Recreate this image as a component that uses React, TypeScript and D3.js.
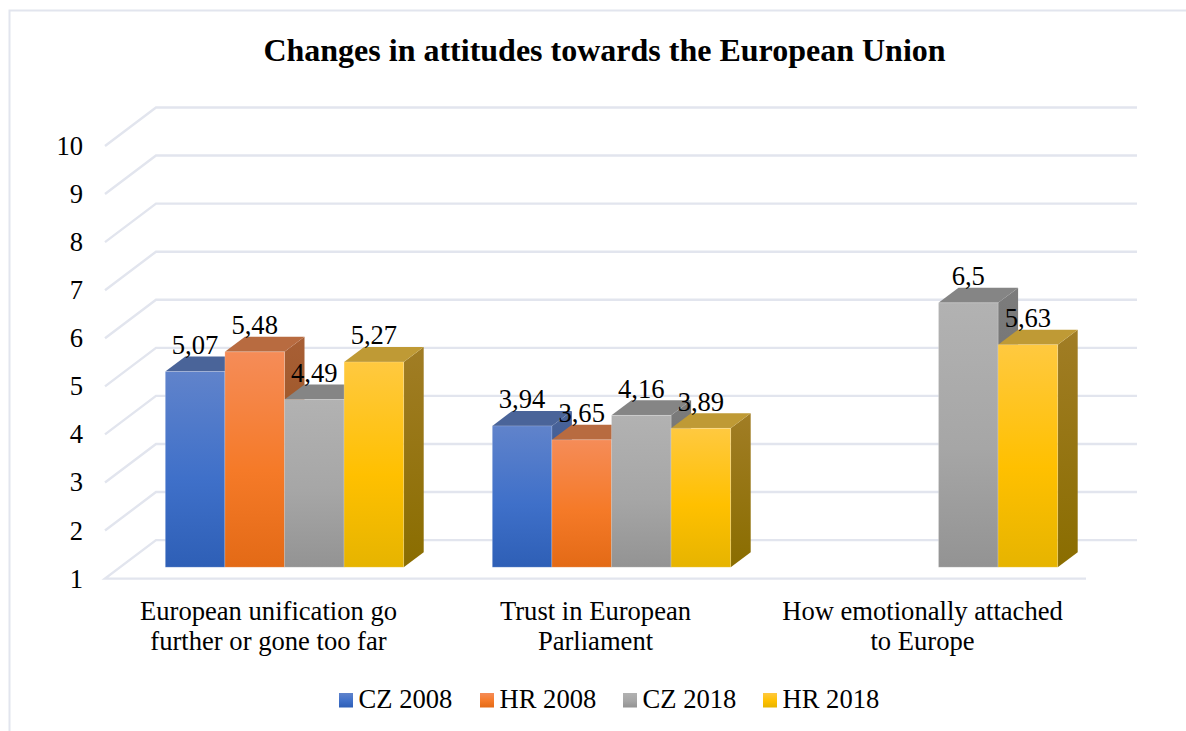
import React from "react";
import * as d3 from "d3";

const categories = [
  ["European unification go", "further or gone too far"],
  ["Trust in European", "Parliament"],
  ["How emotionally attached", "to Europe"],
];
const seriesNames = ["CZ 2008", "HR 2008", "CZ 2018", "HR 2018"];
const cz2008: (number | null)[] = [5.07, 3.94, null];
const hr2008: (number | null)[] = [5.48, 3.65, null];
const cz2018: (number | null)[] = [4.49, 4.16, 6.5];
const hr2018: (number | null)[] = [5.27, 3.89, 5.63];
const seriesValues = [cz2008, hr2008, cz2018, hr2018];
const valueTicks = [1, 2, 3, 4, 5, 6, 7, 8, 9, 10];
const labelText = ["5,07", "3,94", "", "5,48", "3,65", "", "4,49", "4,16", "6,5", "5,27", "3,89", "5,63"];

const palettes = [
  { stops: ["#6083cb", "#3f70c9", "#2e5fb6"], top: "#4a6499", side: ["#4a6499", "#2a4a8c"] },
  { stops: ["#f58c58", "#f57a28", "#e36a16"], top: "#b86b40", side: ["#a85f35", "#8f4d18"] },
  { stops: ["#b2b2b2", "#a6a6a6", "#939393"], top: "#858585", side: ["#7c7c7c", "#666666"] },
  { stops: ["#ffc940", "#ffc000", "#e6b400"], top: "#bf9a35", side: ["#a17d25", "#8a6d00"] },
];

const legendSwatchX = [339, 480, 623, 763];
const FONT = "'Liberation Serif', 'Times New Roman', serif";
const GRID = "#e2e5ee";
const DX = 51; // full floor depth
const DY = -38.5;
const BAR_DX = 20;
const BAR_DY = -15;
const BAR_INSET_X = 16;
const BAR_INSET_Y = -11.4;
const TEXT_SIZE = 26.6;

export default function App() {
  // Value scale on the front plane of the floor
  const y = d3.scaleLinear().domain([1, 10]).range([578.6, 146]);
  const x0 = d3.scaleBand<number>().domain([0, 1, 2]).range([105, 1086]);
  const x1 = d3.scaleBand<number>().domain([0, 1, 2, 3]).range([0, 238.4]);
  const groupLeft = (i: number) => x0(i)! + (x0.bandwidth() - x1.range()[1]) / 2;

  return (
    <svg
      width={1186}
      height={731}
      style={{ position: "absolute", left: 0, top: 0, background: "#fff" }}
      fontFamily={FONT}
    >
      <defs>
        {palettes.map((p, i) => (
          <React.Fragment key={i}>
            <linearGradient id={`f${i}`} x1="0" y1="0" x2="0" y2="1">
              <stop offset="0" stopColor={p.stops[0]} />
              <stop offset="0.55" stopColor={p.stops[1]} />
              <stop offset="1" stopColor={p.stops[2]} />
            </linearGradient>
            <linearGradient id={`s${i}`} x1="0" y1="0" x2="0" y2="1">
              <stop offset="0" stopColor={p.side[0]} />
              <stop offset="1" stopColor={p.side[1]} />
            </linearGradient>
          </React.Fragment>
        ))}
      </defs>

      <path d="M9.5 731V10.5H1186" fill="none" stroke={GRID} strokeWidth={2} />

      <text x={604.5} y={61} textAnchor="middle" fontSize={32} fontWeight="bold" fill="#000">
        Changes in attitudes towards the European Union
      </text>

      {valueTicks.map((t) => {
        const fy = y(t);
        const pts: [number, number][] =
          t === 1
            ? [[1086, fy], [105, fy], [105 + DX, fy + DY], [1086 + DX, fy + DY]]
            : [[105, fy], [105 + DX, fy + DY], [1086 + DX, fy + DY]];
        return (
          <g key={t}>
            <path d={d3.line()(pts)!} fill="none" stroke={GRID} strokeWidth={2.4} />
            <text x={83} y={fy + 9} textAnchor="end" fontSize={TEXT_SIZE} fill="#000">
              {t}
            </text>
          </g>
        );
      })}

      {categories.map((_, c) =>
        seriesValues.map((vals, s) => {
          const v = vals[c];
          if (v == null) return null;
          const l = groupLeft(c) + x1(s)! + BAR_INSET_X;
          const r = l + x1.bandwidth();
          const b = y(1) + BAR_INSET_Y;
          const t = y(v) + BAR_INSET_Y;
          return (
            <g key={`${c}-${s}`}>
              <path
                d={`M${r} ${t}L${r + BAR_DX} ${t + BAR_DY}V${b + BAR_DY}L${r} ${b}Z`}
                fill={`url(#s${s})`}
              />
              <path
                d={`M${l} ${t}L${l + BAR_DX} ${t + BAR_DY}H${r + BAR_DX}L${r} ${t}Z`}
                fill={palettes[s].top}
              />
              <rect x={l} y={t} width={r - l} height={b - t} fill={`url(#f${s})`} stroke="#fff" strokeOpacity={0.25} strokeWidth={0.8} />
            </g>
          );
        })
      )}

      {categories.map((_, c) =>
        seriesValues.map((vals, s) => {
          const v = vals[c];
          if (v == null) return null;
          const cx = groupLeft(c) + x1(s)! + BAR_INSET_X + x1.bandwidth() / 2;
          return (
            <text key={`${c}-${s}`} x={cx} y={y(v) + BAR_INSET_Y - 17.5} textAnchor="middle" fontSize={TEXT_SIZE} fill="#000">
              {labelText[s * 3 + c]}
            </text>
          );
        })
      )}

      {categories.map((lines, c) => (
        <text key={c} textAnchor="middle" fontSize={TEXT_SIZE} fill="#000">
          {lines.map((ln, i) => (
            <tspan key={i} x={x0(c)! + x0.bandwidth() / 2} y={619.5 + i * 30}>
              {ln}
            </tspan>
          ))}
        </text>
      ))}

      {seriesNames.map((n, i) => {
        const lx = legendSwatchX[i];
        return (
          <g key={n}>
            <rect x={lx} y={693} width={14} height={14.5} fill={`url(#f${i})`} />
            <text x={lx + 19.5} y={708} fontSize={TEXT_SIZE} fill="#000">
              {n}
            </text>
          </g>
        );
      })}
    </svg>
  );
}
